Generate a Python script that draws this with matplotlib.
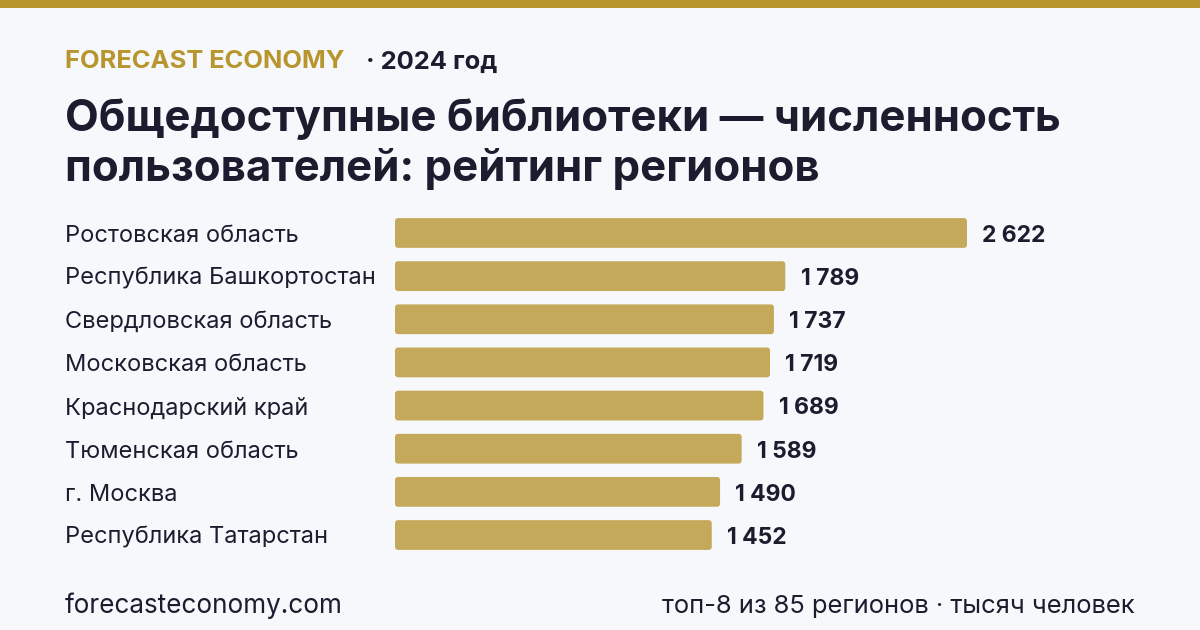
import matplotlib.pyplot as plt
from matplotlib.patches import Rectangle, FancyBboxPatch

# === данные ===
regions = [
    "Ростовская область",
    "Республика Башкортостан",
    "Свердловская область",
    "Московская область",
    "Краснодарский край",
    "Тюменская область",
    "г. Москва",
    "Республика Татарстан",
]
users = [2622, 1789, 1737, 1719, 1689, 1589, 1490, 1452]

GOLD = "#B8962E"
BAR = "#C5A95B"
DARK = "#1C1C2E"
BG = "#F7F8FC"

plt.rcParams["font.family"] = ["Inter", "DejaVu Sans"]

W, H = 1200, 630
fig = plt.figure(figsize=(12, 6.3), dpi=100, facecolor=BG)

# верхняя полоса
fig.patches.append(Rectangle((0, 1 - 8 / H), 1, 8 / H, transform=fig.transFigure,
                             facecolor=GOLD, edgecolor="none"))

# шапка
fig.text(65 / W, 1 - 62 / H, "FORECAST ECONOMY", color=GOLD, fontsize=18.4,
         fontweight="bold", va="center", ha="left")
fig.text(366 / W, 1 - 62 / H, "· 2024 год", color=DARK, fontsize=18.4,
         fontweight="bold", va="center", ha="left")
fig.text(65 / W, 1 - 119 / H, "Общедоступные библиотеки — численность",
         color=DARK, fontsize=31.5, fontweight="bold", va="center", ha="left")
fig.text(65 / W, 1 - 169 / H, "пользователей: рейтинг регионов",
         color=DARK, fontsize=31.5, fontweight="bold", va="center", ha="left")

# === график ===
ax = fig.add_axes([395 / W, 1 - 556.6 / H, 572 / W, 345.2 / H])
ax.set_facecolor("none")
y = list(range(len(regions)))
bars = ax.barh(y, users, height=0.69, color=BAR, edgecolor="none")
ax.set_xlim(0, max(users))
ax.set_ylim(len(regions) - 0.5, -0.5)
ax.axis("off")

# скруглённые углы (~3 px)
x0, x1 = ax.get_xlim()
px_x = (x1 - x0) / (ax.get_position().width * W)          # ед. по x на пиксель
px_y = len(regions) / (ax.get_position().height * H)      # ед. по y на пиксель
r = 3 * px_x
for b in bars:
    b.set_visible(False)
    ax.add_patch(FancyBboxPatch((b.get_x(), b.get_y()), b.get_width(), b.get_height(),
                                boxstyle=f"round,pad=0,rounding_size={r}",
                                mutation_aspect=px_y / px_x,
                                facecolor=BAR, edgecolor="none"))

for yi, v, name in zip(y, users, regions):
    ax.annotate(f"{v:,}".replace(",", " "), xy=(v, yi), xytext=(11, -2),
                textcoords="offset points", color=DARK, fontsize=16.5,
                fontweight="bold", va="center", ha="left", annotation_clip=False)
    ax.annotate(name, xy=(0, yi), xycoords="data", xytext=(65 / W, -2),
                textcoords=("figure fraction", "offset points"),
                color=DARK, fontsize=17, va="center", ha="left")

# подвал
fig.text(65 / W, 1 - 606 / H, "forecasteconomy.com", color=DARK, fontsize=18.8,
         va="center", ha="left")
fig.text(1135 / W, 1 - 606 / H, "топ-8 из 85 регионов · тысяч человек", color=DARK,
         fontsize=18.4, va="center", ha="right")

plt.savefig("out.png", dpi=100, facecolor=BG)
